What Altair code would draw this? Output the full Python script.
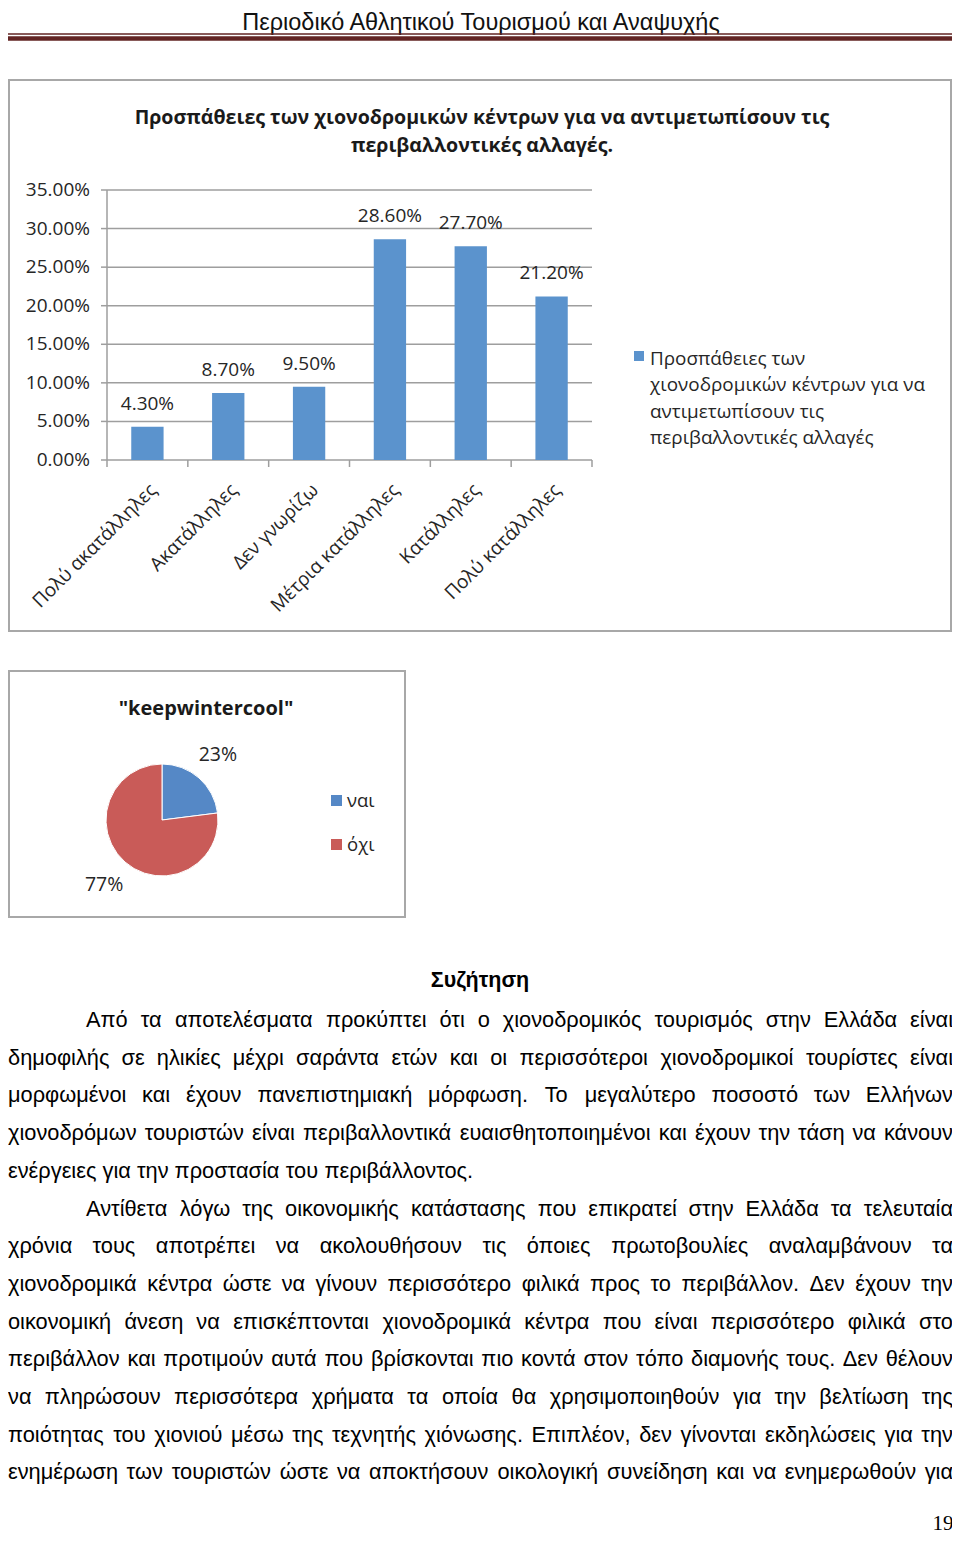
import altair as alt
import pandas as pd

# ---------------- data ----------------
header_title = "Περιοδικό Αθλητικού Τουρισμού και Αναψυχής"
bar_title = ["Προσπάθειες των χιονοδρομικών κέντρων για να αντιμετωπίσουν τις",
             "περιβαλλοντικές αλλαγές."]
bar_categories = ["Πολύ ακατάλληλες", "Ακατάλληλες", "Δεν γνωρίζω",
                  "Μέτρια κατάλληλες", "Κατάλληλες", "Πολύ κατάλληλες"]
bar_values = [0.043, 0.087, 0.095, 0.286, 0.277, 0.212]
y_ticks = [0.0, 0.05, 0.10, 0.15, 0.20, 0.25, 0.30, 0.35]
bar_legend = ["Προσπάθειες των", "χιονοδρομικών κέντρων για να",
              "αντιμετωπίσουν τις", "περιβαλλοντικές αλλαγές"]
pie_title = '"keepwintercool"'
pie_labels = ["ναι", "όχι"]
pie_values = [0.23, 0.77]
heading = "Συζήτηση"
paragraph_1 = [
    "Από τα αποτελέσματα προκύπτει ότι ο χιονοδρομικός τουρισμός στην Ελλάδα είναι",
    "δημοφιλής σε ηλικίες μέχρι σαράντα ετών και οι περισσότεροι χιονοδρομικοί τουρίστες είναι",
    "μορφωμένοι και έχουν πανεπιστημιακή μόρφωση. Το μεγαλύτερο ποσοστό των Ελλήνων",
    "χιονοδρόμων τουριστών είναι περιβαλλοντικά ευαισθητοποιημένοι και έχουν την τάση να κάνουν",
    "ενέργειες για την προστασία του περιβάλλοντος.",
]
paragraph_2 = [
    "Αντίθετα λόγω της οικονομικής κατάστασης που επικρατεί στην Ελλάδα τα τελευταία",
    "χρόνια τους αποτρέπει να ακολουθήσουν τις όποιες πρωτοβουλίες αναλαμβάνουν τα",
    "χιονοδρομικά κέντρα ώστε να γίνουν περισσότερο φιλικά προς το περιβάλλον. Δεν έχουν την",
    "οικονομική άνεση να επισκέπτονται χιονοδρομικά κέντρα που είναι περισσότερο φιλικά στο",
    "περιβάλλον και προτιμούν αυτά που βρίσκονται πιο κοντά στον τόπο διαμονής τους. Δεν θέλουν",
    "να πληρώσουν περισσότερα χρήματα τα οποία θα χρησιμοποιηθούν για την βελτίωση της",
    "ποιότητας του χιονιού μέσω της τεχνητής χιόνωσης. Επιπλέον, δεν γίνονται εκδηλώσεις για την",
    "ενημέρωση των τουριστών ώστε να αποκτήσουν οικολογική συνείδηση και να ενημερωθούν για",
]
page_number = "19"

# ---------------- layout / style ----------------
W, H = 944, 1526
OX, OY = 8, 8


def px(v):
    return v - OX


def py(v):
    return v - OY


CAL = "Open Sans"
SANS = "Liberation Sans, Arial, sans-serif"
SERIF = "Liberation Serif, Times New Roman, serif"
TXT = "#262626"
GRID = "#9e9e9e"
BAR = "#5b93cd"
BLUE = "#5588c6"
RED = "#c95b58"
BOX = "#a8a8a8"

one = alt.Data(values=[{}])


def label(text, x, y, size, font, weight="normal", align="center",
          baseline="middle", color="#000000", **kw):
    return alt.Chart(one).mark_text(
        text=text, font=font, fontSize=size, fontWeight=weight, align=align,
        baseline=baseline, color=color, **kw
    ).encode(x=alt.value(px(x)), y=alt.value(py(y)))


def box(x0, x1, y0, y1):
    return alt.Chart(one).mark_rect(fill="white", stroke=BOX, strokeWidth=2).encode(
        x=alt.value(px(x0)), x2=alt.value(px(x1)),
        y=alt.value(py(y0)), y2=alt.value(py(y1)))


def hrule(x0, x1, y, color, width):
    return alt.Chart(one).mark_rule(color=color, strokeWidth=width).encode(
        x=alt.value(px(x0)), x2=alt.value(px(x1)), y=alt.value(py(y)))


def square(x0, x1, y0, y1, color):
    return alt.Chart(one).mark_rect(color=color).encode(
        x=alt.value(px(x0)), x2=alt.value(px(x1)),
        y=alt.value(py(y0)), y2=alt.value(py(y1)))


layers = []

# header
layers.append(label(header_title, 481, 29.5, 23.5, SANS, baseline="alphabetic", color="#111111"))
layers.append(hrule(5, 957, 34, "#622423", 1.5))
layers.append(hrule(5, 957, 38.5, "#622423", 4.5))

# ---------------- bar chart ----------------
layers.append(box(9, 951, 80, 631))
layers.append(label(bar_title[0], 482, 118, 19.6, CAL, weight="bold", color="#1a1a1a"))
layers.append(label(bar_title[1], 482, 146, 19.6, CAL, weight="bold", color="#1a1a1a"))

X0, X1, Y0, Y1 = 107, 592, 460, 190
xband = alt.Scale(domain=bar_categories, range=[px(X0), px(X1)],
                  paddingInner=0.6, paddingOuter=0.3)
xband_lab = alt.Scale(domain=bar_categories, range=[px(X0) + 6, px(X1) + 6],
                      paddingInner=0.6, paddingOuter=0.3)
yscale = alt.Scale(domain=[0, 0.35], range=[py(Y0), py(Y1)], nice=False, zero=True)

df_bar = pd.DataFrame({"cat": bar_categories, "value": bar_values})
df_ticks = pd.DataFrame({"t": y_ticks})
df_bounds = pd.DataFrame({"b": list(range(len(bar_categories) + 1))})

grid = alt.Chart(df_ticks).mark_rule(color=GRID, strokeWidth=1.5).encode(
    y=alt.Y("t:Q", scale=yscale, axis=None),
    x=alt.value(px(X0)), x2=alt.value(px(X1)))
ytick = alt.Chart(df_ticks).mark_rule(color=GRID, strokeWidth=1.5).encode(
    y=alt.Y("t:Q", scale=yscale, axis=None),
    x=alt.value(px(X0 - 6)), x2=alt.value(px(X0)))
yaxis = alt.Chart(one).mark_rule(color=GRID, strokeWidth=1.5).encode(
    x=alt.value(px(X0)), y=alt.value(py(Y1)), y2=alt.value(py(Y0)))
xtick = alt.Chart(df_bounds).mark_rule(color=GRID, strokeWidth=1.5).encode(
    x=alt.X("b:Q", scale=alt.Scale(domain=[0, len(bar_categories)], range=[px(X0), px(X1)]), axis=None),
    y=alt.value(py(Y0)), y2=alt.value(py(Y0 + 7)))
ylab = alt.Chart(df_ticks).mark_text(align="right", baseline="middle", font=CAL,
                                     fontSize=19, color=TXT).encode(
    y=alt.Y("t:Q", scale=yscale, axis=None),
    x=alt.value(px(90)),
    text=alt.Text("t:Q", format=".2%"))
bars = alt.Chart(df_bar).mark_bar(color=BAR).encode(
    x=alt.X("cat:N", scale=xband, axis=None, sort=None),
    y=alt.Y("value:Q", scale=yscale, axis=None))
vlab = alt.Chart(df_bar).mark_text(baseline="middle", font=CAL, fontSize=19,
                                   color=TXT, dy=-23).encode(
    x=alt.X("cat:N", scale=xband, axis=None, sort=None),
    y=alt.Y("value:Q", scale=yscale, axis=None),
    text=alt.Text("value:Q", format=".2%"))
xlab = alt.Chart(df_bar).mark_text(angle=315, align="right", baseline="middle",
                                   font=CAL, fontSize=19, color=TXT).encode(
    x=alt.X("cat:N", scale=xband_lab, axis=None, sort=None),
    y=alt.value(py(487)),
    text="cat:N")
layers += [grid, ytick, yaxis, xtick, ylab, bars, vlab, xlab]

# legend of bar chart
layers.append(square(634, 644, 351, 361, BAR))
layers.append(alt.Chart(one).mark_text(
    text=bar_legend, font=CAL, fontSize=18.9, align="left", baseline="alphabetic",
    lineHeight=26.3, color=TXT).encode(x=alt.value(px(650)), y=alt.value(py(365))))

# ---------------- pie chart ----------------
layers.append(box(9, 405, 671, 917))
layers.append(label(pie_title, 206, 709, 20, CAL, weight="bold", color="#1a1a1a"))
df_pie = pd.DataFrame({"k": pie_labels, "v": pie_values, "i": list(range(len(pie_labels)))})
pie = alt.Chart(df_pie).mark_arc(radius=56, stroke="white", strokeWidth=1).encode(
    theta=alt.Theta("v:Q", stack=True),
    color=alt.Color("k:N", scale=alt.Scale(domain=pie_labels, range=[BLUE, RED]), legend=None),
    order=alt.Order("i:Q"),
    x=alt.value(px(162)), y=alt.value(py(820)))
pie_lab = alt.Chart(df_pie).mark_text(radius=86, font=CAL, fontSize=19.5, color=TXT).encode(
    theta=alt.Theta("v:Q", stack=True),
    order=alt.Order("i:Q"),
    text=alt.Text("v:Q", format=".0%"),
    x=alt.value(px(161)), y=alt.value(py(820)))
layers += [pie, pie_lab]
layers.append(square(331, 342, 795, 806, BLUE))
layers.append(square(331, 342, 839, 850, RED))
layers.append(label(pie_labels[0], 347, 801, 18.5, CAL, align="left", color=TXT))
layers.append(label(pie_labels[1], 347, 845, 18.5, CAL, align="left", color=TXT))

# ---------------- body text ----------------
layers.append(label(heading, 480, 981, 21.5, SANS, weight="bold"))

# advance widths (em, Arial / Liberation Sans metrics) used to justify the lines
EM = {
    "α": .578, "β": .575, "γ": .5, "δ": .556, "ε": .446, "ζ": .441, "η": .556,
    "θ": .556, "ι": .222, "κ": .5, "λ": .5, "μ": .576, "ν": .5, "ξ": .448,
    "ο": .556, "π": .69, "ρ": .571, "σ": .617, "ς": .48, "τ": .395, "υ": .547,
    "φ": .648, "χ": .524, "ψ": .712, "ω": .781,
    "ά": .578, "έ": .446, "ή": .556, "ί": .222, "ό": .556, "ύ": .547, "ώ": .781,
    "Α": .667, "Δ": .668, "Ε": .667, "Τ": .611, "Π": .722, "Μ": .833,
    ".": .278, ",": .278, " ": .278,
}
BODY_SIZE = 21.8


def tw(s):
    return sum(EM.get(c, .556) for c in s) * BODY_SIZE


LEFT, RIGHT, INDENT = 8, 953, 86
ragged = {len(paragraph_1) - 1}
rows = []
r = 0
for para in (paragraph_1, paragraph_2):
    for li, line in enumerate(para):
        words = line.split(" ")
        left = INDENT if li == 0 else LEFT
        widths = [tw(w) for w in words]
        if r in ragged:
            cur = left
            for w, wd in zip(words, widths):
                rows.append({"w": w, "x": px(cur), "row": r, "a": "left"})
                cur += wd + tw(" ")
        else:
            gap = (RIGHT - left - sum(widths)) / (len(words) - 1)
            cur = left
            for j, (w, wd) in enumerate(zip(words, widths)):
                if j == 0:
                    rows.append({"w": w, "x": px(left), "row": r, "a": "left"})
                elif j == len(words) - 1:
                    rows.append({"w": w, "x": px(RIGHT), "row": r, "a": "right"})
                else:
                    rows.append({"w": w, "x": px(cur + wd / 2), "row": r, "a": "center"})
                cur += wd + gap
        r += 1

df_words = pd.DataFrame(rows)
n_rows = r
LINE0, LINE_STEP = 1020, 37.7
yrow = alt.Scale(domain=[0, n_rows - 1], range=[py(LINE0), py(LINE0 + (n_rows - 1) * LINE_STEP)])
for a in ("left", "center", "right"):
    layers.append(
        alt.Chart(df_words).transform_filter(alt.datum.a == a).mark_text(
            align=a, baseline="middle", font=SANS, fontSize=BODY_SIZE, color="#000000"
        ).encode(
            x=alt.X("x:Q", scale=None, axis=None),
            y=alt.Y("row:Q", scale=yrow, axis=None),
            text="w:N")
    )

layers.append(label(page_number, 943, 1524, 21, SERIF))

chart = alt.layer(*layers).resolve_scale(
    x="independent", y="independent", theta="independent", color="independent"
).properties(
    width=W, height=H, padding=0, autosize=alt.AutoSizeParams(type="none"),
    background="white"
).configure_view(stroke=None)

chart.save("out.html", embed_options={"renderer": "svg", "actions": False})
